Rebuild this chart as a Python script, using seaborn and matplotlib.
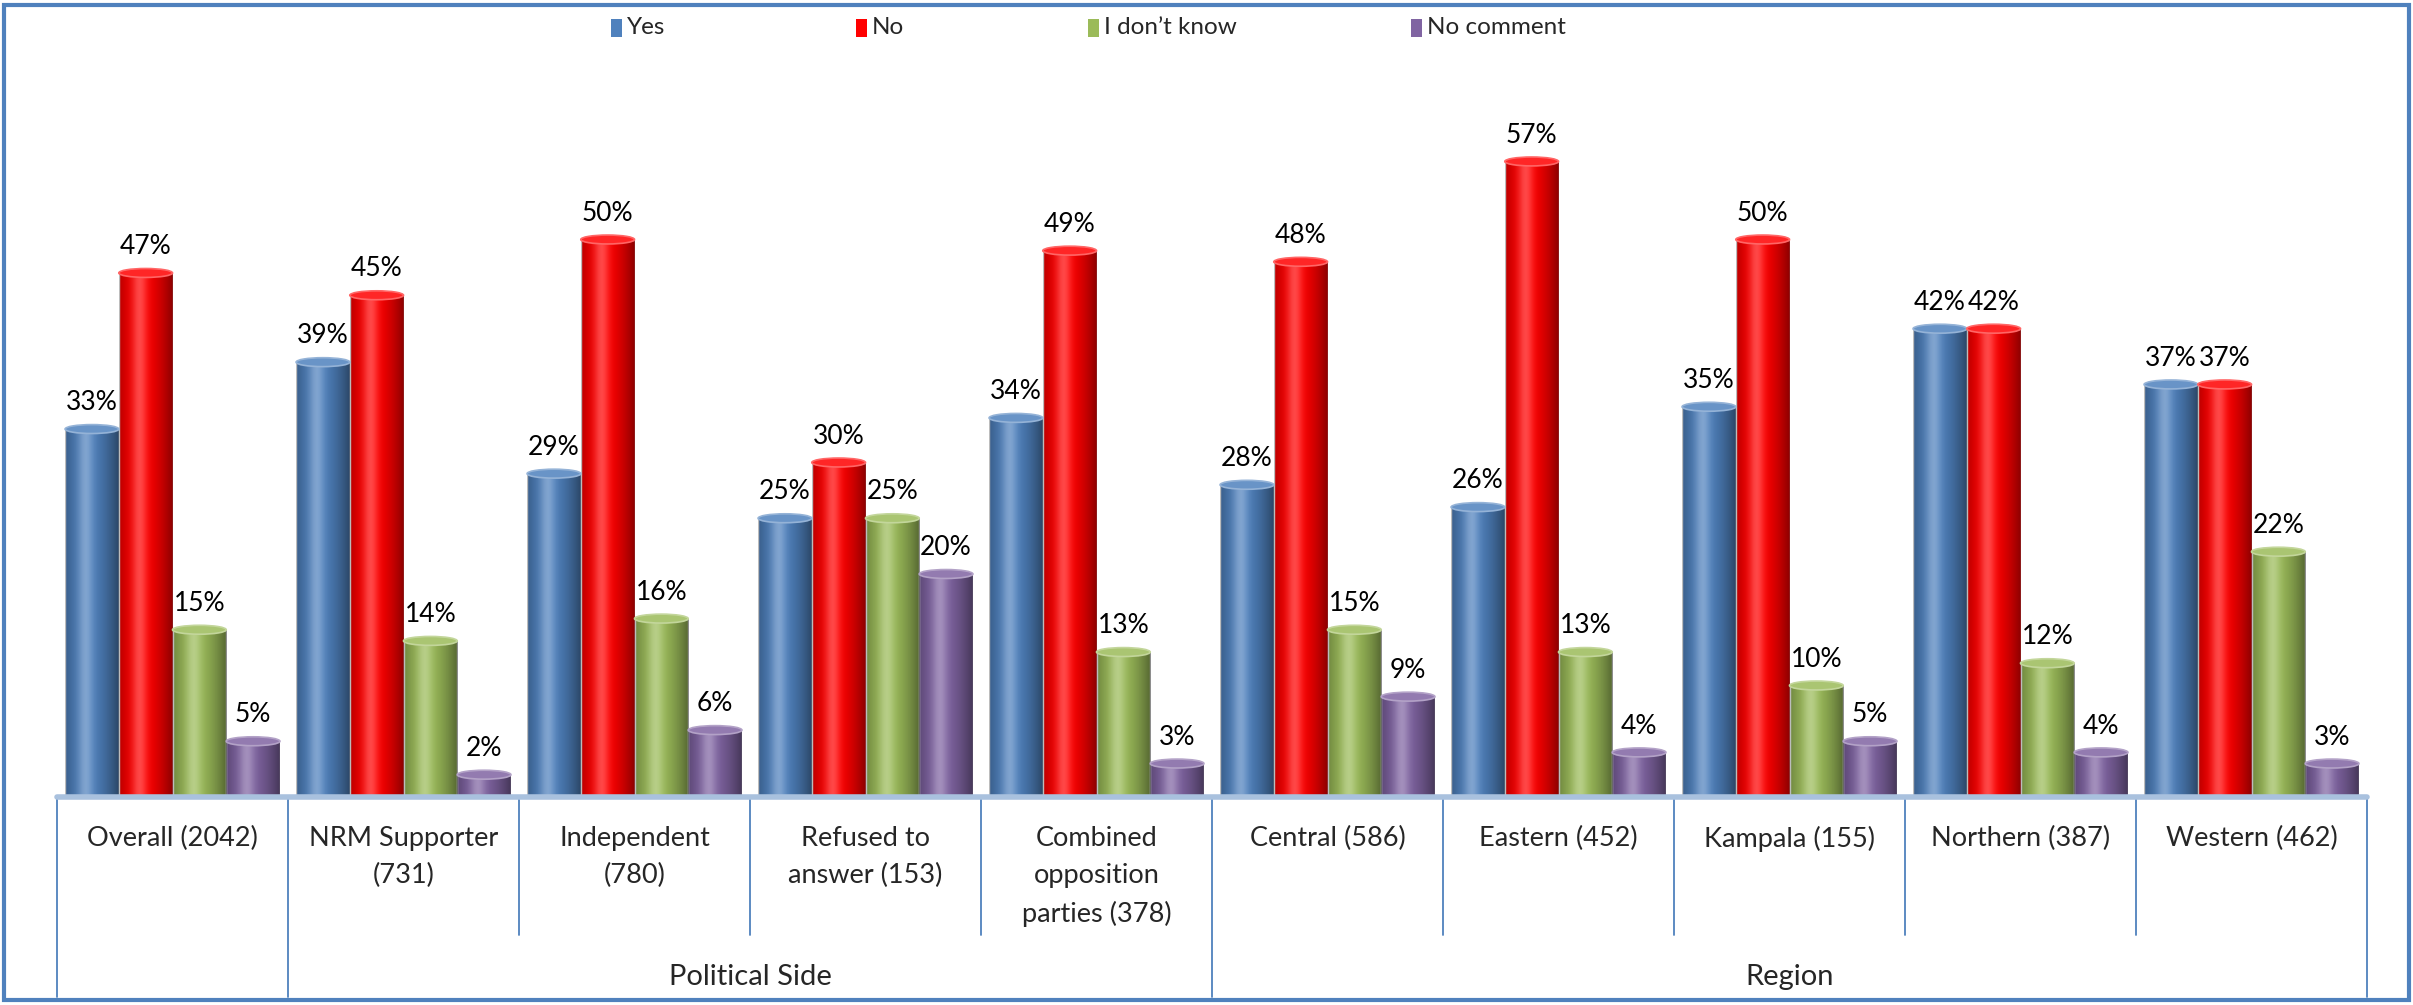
import numpy as np
import pandas as pd
import matplotlib
matplotlib.use("Agg")
import matplotlib.pyplot as plt
import seaborn as sns
from matplotlib import transforms
from matplotlib.patches import Rectangle, Ellipse
from matplotlib.colors import to_rgb

sns.set_theme(style="white")
plt.rcParams["font.family"] = ["Lato", "DejaVu Sans"]

# ---------------- data ----------------
categories = [
    "Overall (2042)",
    "NRM Supporter\n(731)",
    "Independent\n(780)",
    "Refused to\nanswer (153)",
    "Combined\nopposition\nparties (378)",
    "Central (586)",
    "Eastern (452)",
    "Kampala (155)",
    "Northern (387)",
    "Western (462)",
]
responses = ["Yes", "No", "I don’t know", "No comment"]

yes = [33, 39, 29, 25, 34, 28, 26, 35, 42, 37]
no = [47, 45, 50, 30, 49, 48, 57, 50, 42, 37]
dont_know = [15, 14, 16, 25, 13, 15, 13, 10, 12, 22]
no_comment = [5, 2, 6, 20, 3, 9, 4, 5, 4, 3]

group_names = ["Political Side", "Region"]
group_spans = [(1, 4), (5, 9)]

palette = ["#4F81BD", "#FF0000", "#9BBB59", "#8064A2"]

df = pd.DataFrame({
    "Category": categories,
    responses[0]: yes,
    responses[1]: no,
    responses[2]: dont_know,
    responses[3]: no_comment,
}).melt(id_vars="Category", var_name="Response", value_name="Percent")

# ---------------- figure ----------------
W, H = 2413, 1005
fig = plt.figure(figsize=(W / 100, H / 100), dpi=100)
base_y = 797
top_y = 60
ymax = 66.1
ax = fig.add_axes([57 / W, 1 - base_y / H, 2310 / W, (base_y - top_y) / H])

sns.barplot(
    data=df, x="Category", y="Percent", hue="Response",
    order=categories, hue_order=responses, palette=palette,
    saturation=1, width=0.93, gap=0, legend=False, ax=ax,
)
ax.set_axis_off()

# cylinder-ish shading on each bar
t = np.linspace(0, 1, 80)
dark = np.zeros((1, 80, 4))
dark[..., 3] = 0.45 * (np.abs(t - 0.42) / 0.58) ** 1.6
light = np.ones((1, 80, 4))
light[..., 3] = 0.28 * np.exp(-((t - 0.38) / 0.14) ** 2)
cap_h = 0.8
for patch in list(ax.patches):
    x, w, h = patch.get_x(), patch.get_width(), patch.get_height()
    if h <= 0:
        continue
    for img in (dark, light):
        im = ax.imshow(img, extent=[x, x + w, 0, h], aspect="auto",
                       zorder=patch.get_zorder() + 0.1, interpolation="bilinear")
        im.set_clip_path(patch)
    c = np.array(to_rgb(patch.get_facecolor()))
    cap = Ellipse((x + w / 2, h), w, cap_h,
                  facecolor=c * 0.85 + 0.15, edgecolor=c * 0.6 + 0.4,
                  lw=1.2, zorder=patch.get_zorder() + 0.2)
    ax.add_patch(cap)
ax.set_xlim(-0.5, len(categories) - 0.5)
ax.set_ylim(0, ymax)

# value labels
for cont in ax.containers:
    ax.bar_label(cont, labels=[f"{v:.0f}%" for v in cont.datavalues],
                 padding=10, fontsize=19, color="black")

# baseline
ax.axhline(0, color="#A9C1DE", lw=4, zorder=5, clip_on=False)

# separators and category labels under the axis
trans = transforms.blended_transform_factory(ax.transData, fig.transFigure)
long_lines = {0, 1, 5, 10}
for k in range(len(categories) + 1):
    yb = 997 if k in long_lines else 935
    ax.plot([k - 0.5, k - 0.5], [1 - base_y / H, 1 - yb / H], transform=trans,
            color="#4F81BD", lw=1.3, clip_on=False)

for i, cat in enumerate(categories):
    ax.text(i, 1 - 826 / H, cat, transform=trans, ha="center", va="top",
            fontsize=19.5, linespacing=1.6)

for name, (a, b) in zip(group_names, group_spans):
    ax.text((a + b) / 2, 1 - 977 / H, name, transform=trans,
            ha="center", va="center", fontsize=21)

# legend
leg_x = [611, 856, 1088, 1411]
for lx, lab, col in zip(leg_x, responses, palette):
    fig.add_artist(Rectangle((lx / W, 1 - 37 / H), 11 / W, 18 / H,
                             transform=fig.transFigure, facecolor=col,
                             edgecolor="none"))
    fig.text((lx + 16) / W, 1 - 28 / H, lab, ha="left", va="center",
             fontsize=17.5)

# outer border
fig.add_artist(Rectangle((4 / W, 5 / H), 2405 / W, 995 / H,
                         transform=fig.transFigure, fill=False,
                         edgecolor="#4F81BD", lw=3))

fig.savefig("out.png", dpi=100)
